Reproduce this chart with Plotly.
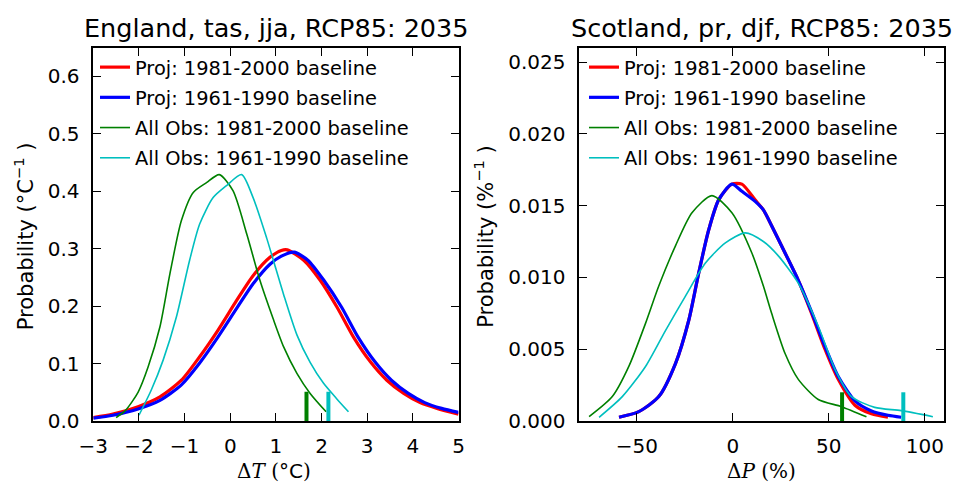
import plotly.graph_objects as go

W, H = 954, 484

# ---------------- data: left panel (England, tas, jja) ----------------
eng_proj81_x = [-3.0, -2.57, -2.02, -1.54, -1.07, -0.67, -0.27, 0.14, 0.50, 0.87, 1.12, 1.25, 1.61, 1.97, 2.34, 2.70, 3.07, 3.43, 3.80, 4.16, 4.53, 5.0]
eng_proj81_y = [0.006, 0.012, 0.025, 0.042, 0.071, 0.112, 0.158, 0.210, 0.253, 0.285, 0.297, 0.298, 0.280, 0.245, 0.198, 0.146, 0.103, 0.071, 0.048, 0.032, 0.022, 0.012]

eng_proj61_x = [-3.0, -2.57, -2.02, -1.54, -1.07, -0.67, -0.27, 0.14, 0.50, 0.87, 1.12, 1.40, 1.70, 2.05, 2.44, 2.80, 3.17, 3.53, 3.90, 4.26, 4.63, 5.0]
eng_proj61_y = [0.005, 0.010, 0.021, 0.036, 0.063, 0.101, 0.146, 0.196, 0.239, 0.273, 0.287, 0.294, 0.280, 0.245, 0.198, 0.146, 0.103, 0.071, 0.048, 0.032, 0.022, 0.015]

eng_obs81_x = [-2.5, -2.3, -2.02, -1.80, -1.54, -1.32, -1.07, -0.81, -0.52, -0.24, 0.06, 0.36, 0.65, 0.94, 1.17, 1.46, 1.75, 2.10]
eng_obs81_y = [0.006, 0.018, 0.050, 0.094, 0.164, 0.257, 0.349, 0.398, 0.415, 0.429, 0.401, 0.326, 0.245, 0.178, 0.129, 0.083, 0.048, 0.016]

eng_obs61_x = [-2.0, -1.73, -1.47, -1.18, -0.89, -0.67, -0.375, -0.08, 0.25, 0.50, 0.80, 1.00, 1.17, 1.46, 1.75, 2.04, 2.34, 2.59]
eng_obs61_y = [0.010, 0.054, 0.106, 0.181, 0.280, 0.343, 0.389, 0.410, 0.429, 0.389, 0.318, 0.265, 0.220, 0.150, 0.102, 0.066, 0.038, 0.016]

eng_mark_x = [1.67, 2.15]          # observed values (obs 81, obs 61)
eng_mark_h = [0.051, 0.051]

# ---------------- data: right panel (Scotland, pr, djf) ----------------
sco_proj81_x = [-59.3, -49, -38.6, -29.9, -23, -17.8, -12.6, -7.4, -0.5, 4.7, 11.6, 15.9, 20.2, 27.2, 34.1, 41.0, 48.0, 54.9, 63.6, 72.2, 80.8]
sco_proj81_y = [0.00026, 0.00065, 0.0017, 0.0040, 0.0070, 0.0103, 0.0133, 0.0154, 0.0165, 0.0165, 0.0154, 0.0147, 0.0136, 0.0117, 0.0098, 0.0075, 0.0050, 0.0029, 0.0011, 0.0005, 0.00026]

sco_proj61_x = [-59.3, -49, -38.6, -29.9, -23, -17.8, -12.6, -7.4, -0.5, 4.7, 11.6, 15.9, 20.2, 27.2, 34.1, 41.0, 48.0, 54.9, 63.6, 72.2, 80.8, 87.7]
sco_proj61_y = [0.00026, 0.00065, 0.0017, 0.0040, 0.0070, 0.0103, 0.0133, 0.0154, 0.0165, 0.0160, 0.0153, 0.0147, 0.0136, 0.0117, 0.0098, 0.0076, 0.0052, 0.0031, 0.0014, 0.0007, 0.0004, 0.00026]

sco_obs81_x = [-74.9, -62.8, -54.2, -45.5, -38.6, -29.9, -21.3, -10.9, -0.5, 9.9, 15.9, 20.2, 27.2, 34.1, 44.5, 56.6, 69.6]
sco_obs81_y = [0.0003, 0.0017, 0.0038, 0.0068, 0.0094, 0.0122, 0.0145, 0.0157, 0.0145, 0.0117, 0.0094, 0.0075, 0.0047, 0.0029, 0.0015, 0.0010, 0.0003]

sco_obs61_x = [-69.7, -57.6, -45.5, -35.1, -24.7, -14.3, -3.9, 6.4, 15.9, 23.7, 34.1, 44.5, 53.2, 61.8, 73.9, 87.7, 104.2]
sco_obs61_y = [0.00026, 0.0017, 0.0038, 0.0063, 0.0087, 0.0110, 0.0124, 0.0131, 0.0125, 0.0115, 0.0096, 0.0066, 0.0036, 0.0017, 0.00095, 0.00072, 0.0003]

sco_mark_x = [56.9, 88.8]
sco_mark_h = [0.002, 0.002]

names = ["Proj: 1981-2000 baseline", "Proj: 1961-1990 baseline",
         "All Obs: 1981-2000 baseline", "All Obs: 1961-1990 baseline"]
colors = ["#ff0000", "#0000ff", "#008000", "#00bfbf"]
widths = [3.2, 3.2, 1.6, 1.6]

FONT = "DejaVu Sans"

fig = go.Figure()

panels = [
    ("x", "y", "legend",
     [(eng_proj81_x, eng_proj81_y), (eng_proj61_x, eng_proj61_y), (eng_obs81_x, eng_obs81_y), (eng_obs61_x, eng_obs61_y)],
     eng_mark_x, eng_mark_h),
    ("x2", "y2", "legend2",
     [(sco_proj81_x, sco_proj81_y), (sco_proj61_x, sco_proj61_y), (sco_obs81_x, sco_obs81_y), (sco_obs61_x, sco_obs61_y)],
     sco_mark_x, sco_mark_h),
]

for xa, ya, leg, series, mx, mh in panels:
    for i, (sx, sy) in enumerate(series):
        fig.add_trace(go.Scatter(
            x=sx, y=sy, mode="lines", name=names[i],
            line=dict(color=colors[i], width=widths[i], shape="spline", smoothing=0.7),
            xaxis=xa, yaxis=ya, legend=leg, legendgroup=f"{leg}{i}",
            hoverinfo="skip"))
    for j, (vx, vh) in enumerate(zip(mx, mh)):
        fig.add_trace(go.Scatter(
            x=[vx, vx], y=[0, vh], mode="lines",
            line=dict(color=colors[2 + j], width=4),
            xaxis=xa, yaxis=ya, showlegend=False, hoverinfo="skip"))

def px_x(p):
    return p / W

def px_y(p):
    return (H - p) / H

ydom = [px_y(421), px_y(47.7)]
axis_common = dict(showline=True, linecolor="black", linewidth=1.6, mirror="ticks",
                   ticks="inside", ticklen=8, tickwidth=1.2, tickcolor="black",
                   showgrid=False, zeroline=False, automargin=False,
                   tickfont=dict(family=FONT, size=20, color="black"))

legend_common = dict(xanchor="left", yanchor="top", bgcolor="rgba(0,0,0,0)", borderwidth=0,
                     tracegroupgap=2, itemwidth=30,
                     font=dict(family=FONT, size=19.4, color="black"))

fig.update_layout(
    width=W, height=H,
    margin=dict(l=0, r=0, t=0, b=0, autoexpand=False),
    paper_bgcolor="white", plot_bgcolor="white",
    font=dict(family=FONT, color="black"),
    xaxis=dict(domain=[px_x(93.3), px_x(458.5)], range=[-3, 5], dtick=1, anchor="y",
               ticklabelstandoff=6, **axis_common),
    yaxis=dict(domain=ydom, range=[0, 0.65], dtick=0.1, tickformat=".1f", anchor="x",
               ticklabelstandoff=8, **axis_common),
    xaxis2=dict(domain=[px_x(579.3), px_x(944)], range=[-80, 110], dtick=50, anchor="y2",
                ticklabelstandoff=6, **axis_common),
    yaxis2=dict(domain=ydom, range=[0, 0.026], dtick=0.005, tickformat=".3f", anchor="x2",
                ticklabelstandoff=8, **axis_common),
    legend=dict(x=px_x(95), y=px_y(48), **legend_common),
    legend2=dict(x=px_x(584), y=px_y(48), **legend_common),
    showlegend=True,
)

serif = "font-family:'DejaVu Serif'"
annotations = [
    dict(text="England, tas, jja, RCP85: 2035", x=px_x(276), y=px_y(28), font=dict(size=25.5)),
    dict(text="Scotland, pr, djf, RCP85: 2035", x=px_x(761.7), y=px_y(28), font=dict(size=25.5)),
    dict(text=f"<span style=\"{serif}\">Δ<i>T</i> (°</span>C<span style=\"{serif}\">)</span>",
         x=px_x(274), y=px_y(471), font=dict(size=20)),
    dict(text=f"<span style=\"{serif}\">Δ<i>P</i> (%)</span>",
         x=px_x(761.7), y=px_y(471), font=dict(size=20)),
    dict(text="Probability (°C<sup>−1</sup> )", x=px_x(23.5), y=px_y(236.7), textangle=-90, font=dict(size=21)),
    dict(text="Probability (%<sup>−1</sup> )", x=px_x(484), y=px_y(236.7), textangle=-90, font=dict(size=21)),
]
for a in annotations:
    a.update(xref="paper", yref="paper", showarrow=False, xanchor="center", yanchor="middle")
    a["font"].update(family=FONT, color="black")
fig.update_layout(annotations=annotations)

fig.write_html("out.html")
